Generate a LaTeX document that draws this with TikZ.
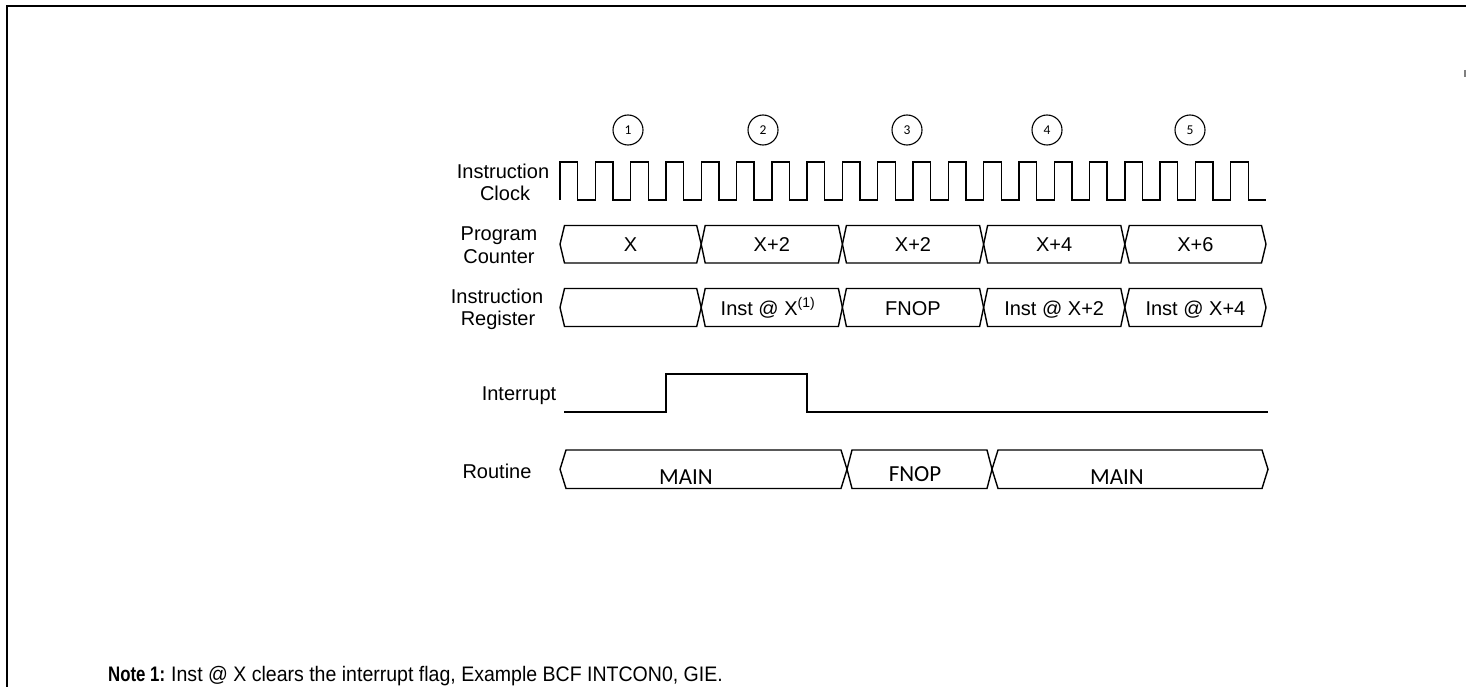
\documentclass[tikz,border=0pt]{standalone}
\usepackage{fontspec}
\setmainfont{Liberation Sans}
\newfontfamily\calfont{Carlito}
\newfontfamily\notefont[FakeStretch=0.93]{Liberation Sans}
\newfontfamily\notebold[FakeStretch=0.8]{Liberation Sans Bold}
\newcommand\buscell[5]{\draw[wave] (#1,{(#3+#4)/2}) -- ({#1+#5},#3) -- ({#2-#5},#3) -- (#2,{(#3+#4)/2}) -- ({#2-#5},#4) -- ({#1+#5},#4) -- cycle;}
\tikzset{
  wave/.style={line width=1.4pt, line join=miter},
  frameline/.style={line width=2.4pt},
  lab/.style={font=\fontsize{20}{24}\selectfont, inner sep=0pt, anchor=base},
  cell/.style={font=\fontsize{20}{24}\selectfont, inner sep=0pt, anchor=base},
  rcell/.style={font=\calfont\fontsize{23}{26}\selectfont, inner sep=0pt, anchor=base},
  num/.style={circle, draw, line width=1.1pt, minimum size=30pt, inner sep=0pt, font=\calfont\fontsize{13.5}{15}\selectfont},
}
\begin{document}
\begin{tikzpicture}[x=1pt,y=-1pt]
\useasboundingbox (0,0) rectangle (1466,687);
% frame
\draw[frameline] (7,687) -- (7,6) -- (1466,6);
\draw[line width=1.5pt, gray] (1465,70) -- (1465,77);
% cycle numbers
\foreach \n/\x in {1/628,2/763,3/907,4/1047,5/1190}
  \node[num] (c\n) at (\x,130) {\n};
% labels
\node[lab] (clkA) at (503,178.5) {Instruction};
\node[lab] (clkB) at (505,200.5) {Clock};
\node[lab] (pcA) at (499,240) {Program};
\node[lab] (pcB) at (499,263) {Counter};
\node[lab] (irA) at (497,303) {Instruction};
\node[lab] (irB) at (498,325) {Register};
\node[lab] (intl) at (519,400) {Interrupt};
\node[lab] (rtl) at (497,478) {Routine};
% instruction clock
\draw[wave] (560,200) foreach \k in {0,...,19} {
  -- ({560+35.3*\k},162) -- ({577.65+35.3*\k},162) -- ({577.65+35.3*\k},200) -- ({595.3+35.3*\k},200) };
% program counter
\buscell{560}{701.2}{225.5}{263}{4.5}
\buscell{701.2}{842.4}{225.5}{263}{4}
\buscell{842.4}{983.6}{225.5}{263}{4}
\buscell{983.6}{1124.8}{225.5}{263}{4}
\buscell{1124.8}{1266}{225.5}{263}{4.5}
\node[cell] (pc1) at (630.6,251.5) {X};
\node[cell] (pc2) at (771.8,251.5) {X+2};
\node[cell] (pc3) at (913,251.5) {X+2};
\node[cell] (pc4) at (1054.2,251.5) {X+4};
\node[cell] (pc5) at (1195.4,251.5) {X+6};
% instruction register
\buscell{560}{701.2}{288.5}{326.5}{4.5}
\buscell{701.2}{842.4}{288.5}{326.5}{4}
\buscell{842.4}{983.6}{288.5}{326.5}{4}
\buscell{983.6}{1124.8}{288.5}{326.5}{4}
\buscell{1124.8}{1266}{288.5}{326.5}{4.5}
\node[cell] (ir2) at (768,315) {Inst @ X\textsuperscript{(1)}};
\node[cell] (ir3) at (913,315) {FNOP};
\node[cell] (ir4) at (1054.2,315) {Inst @ X+2};
\node[cell] (ir5) at (1195.4,315) {Inst @ X+4};
% interrupt
\draw[wave] (564,412) -- (666,412) -- (666,374) -- (807,374) -- (807,412) -- (1268,412);
% routine
\buscell{560}{847}{450}{488.5}{6}
\buscell{847}{992}{450}{488.5}{5}
\buscell{992}{1268}{450}{488.5}{6}
\node[rcell] (rt1) at (686,484) {MAIN};
\node[rcell] (rt2) at (915,481) {FNOP};
\node[rcell] (rt3) at (1117,484) {MAIN};
% note
\node[font=\notebold\fontsize{21}{24}\selectfont, inner sep=0pt, anchor=base west] (note1) at (108,681) {Note 1:};
\node[font=\notefont\fontsize{21}{24}\selectfont, inner sep=0pt, anchor=base west] (note2) at (171,681) {Inst @ X clears the interrupt flag, Example BCF INTCON0, GIE.};
\end{tikzpicture}
\end{document}
